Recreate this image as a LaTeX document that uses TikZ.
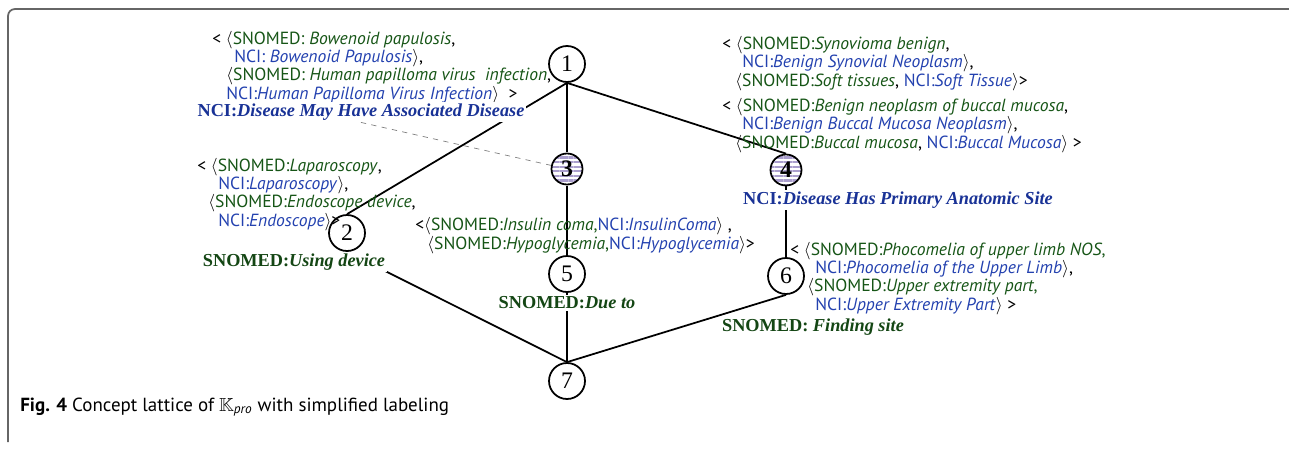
\documentclass[tikz,border=0pt]{standalone}
\usepackage{amsmath}
\usepackage{amssymb}
\usepackage{fontspec}
\setmainfont{Liberation Serif}
\setsansfont{PT Sans}
\usepackage{tikz}
\usetikzlibrary{patterns.meta}
\usepackage{xcolor}

\definecolor{sngreen}{RGB}{22,85,22}
\definecolor{nciblue}{RGB}{35,65,175}
\definecolor{relblue}{RGB}{25,50,150}
\definecolor{relgreen}{RGB}{20,70,20}
\definecolor{stripe}{RGB}{170,158,205}

\newcommand{\snm}[1]{\textcolor{sngreen}{#1}}
\newcommand{\nci}[1]{\textcolor{nciblue}{#1}}
\newcommand{\lb}{$\langle$}
\newcommand{\rb}{$\rangle$}

\begin{document}
\begin{tikzpicture}[x=0.02cm, y=-0.02cm,
  concept/.style={circle, draw, line width=1pt, minimum size=0.72cm, inner sep=0pt, font=\fontsize{13.5}{13.5}\selectfont},
  conceptobj/.style={circle, draw, line width=1pt, minimum size=0.62cm, inner sep=0pt, font=\bfseries\fontsize{13.5}{13.5}\selectfont, pattern={Lines[angle=0,distance=2.6pt,line width=1.3pt]}, pattern color=stripe},
  pairs/.style={anchor=base west, align=left, inner sep=0pt, font=\sffamily\fontsize{10}{10.3}\selectfont},
  relname/.style={fill=white, inner sep=1pt, font=\bfseries\fontsize{10.4}{12}\selectfont},
  link/.style={line width=1pt}]

\useasboundingbox (0,0) rectangle (1289,450);

% frame
\draw[gray!80!black, line width=1pt, rounded corners=4pt] (8,442) -- (8,9) -- (1289,9);

% concepts
\node[concept] (n1) at (567,64) {1};
\node[conceptobj] (n3) at (567,169) {3};
\node[conceptobj] (n4) at (786,170) {4};
\node[concept] (n2) at (347,233) {2};
\node[concept] (n5) at (567,274) {5};
\node[concept] (n6) at (786,276) {6};
\node[concept] (n7) at (567,381) {7};

% lattice lines
\draw[link] (n1.south) -- (n3.north);
\draw[link] (n1.south) -- (n2.north);
\draw[link] (n1.south) -- (n4.north);
\draw[link] (n3.south) -- (n5.north);
\draw[link] (n4.south) -- (n6.north);
\draw[link] (n2.south) -- (n7.north);
\draw[link] (n5.south) -- (n7.north);
\draw[link] (n6.south) -- (n7.north);

% object pairs (anchored at the last line)
\node[pairs] (o1) at (212,99) {< \lb\snm{SNOMED: \textit{Bowenoid papulosis}},\\
  \hspace*{0.44cm}\nci{NCI: \textit{Bowenoid Papulosis}}\rb,\\
  \hspace*{0.28cm}\lb\snm{SNOMED: \textit{Human papilloma virus\ \ infection}},\\
  \hspace*{0.28cm}\nci{NCI:\textit{Human Papilloma Virus Infection}}\rb\ \ >};

\node[pairs] (o4a) at (722,86) {< \lb\snm{SNOMED:\textit{Synovioma benign}},\\
  \hspace*{0.4cm}\nci{NCI:\textit{Benign Synovial Neoplasm}}\rb,\\
  \hspace*{0.26cm}\lb\snm{SNOMED:\textit{Soft tissues}}, \nci{NCI:\textit{Soft Tissue}}\rb>};

\node[pairs] (o4b) at (722,148) {< \lb\snm{SNOMED:\textit{Benign neoplasm of buccal mucosa}},\\
  \hspace*{0.4cm}\nci{NCI:\textit{Benign Buccal Mucosa Neoplasm}}\rb,\\
  \hspace*{0.26cm}\lb\snm{SNOMED:\textit{Buccal mucosa}}, \nci{NCI:\textit{Buccal Mucosa}}\rb\ >};

\node[pairs] (o2) at (197,226) {< \lb\snm{SNOMED:\textit{Laparoscopy}},\\
  \hspace*{0.42cm}\nci{NCI:\textit{Laparoscopy}}\rb,\\
  \hspace*{0.22cm}\lb\snm{SNOMED:\textit{Endoscope device}},\\
  \hspace*{0.42cm}\nci{NCI:\textit{Endoscope}}\rb>};

\node[pairs] (o5) at (415,249) {<\lb\snm{SNOMED:\textit{Insulin coma},}\nci{NCI:\textit{InsulinComa}}\rb\ ,\\
  \hspace*{0.24cm}\lb\snm{SNOMED:\textit{Hypoglycemia},}\nci{NCI:\textit{Hypoglycemia}}\rb>};

\node[pairs] (o6) at (790,310) {< \lb\snm{SNOMED:\textit{Phocomelia of upper limb NOS},}\\
  \hspace*{0.5cm}\nci{NCI:\textit{Phocomelia of the Upper Limb}}\rb,\\
  \hspace*{0.34cm}\lb\snm{SNOMED:\textit{Upper extremity part},}\\
  \hspace*{0.5cm}\nci{NCI:\textit{Upper Extremity Part}}\rb\ >};

% relation names
\node[relname, text=relblue] (r3) at (361,112) {NCI:\textit{Disease May Have Associated Disease}};
\node[relname, text=relblue] (r4) at (898,200) {NCI:\textit{Disease Has Primary Anatomic Site}};
\node[relname, text=relgreen] (r2) at (294,262) {SNOMED:\textit{Using device}};
\node[relname, text=relgreen] (r5) at (567,303) {SNOMED:\textit{Due to}};
\node[relname, text=relgreen] (r6) at (813,327) {SNOMED: \textit{Finding site}};

\draw[gray, dashed, thin] (r3.south) -- (n3);

% caption
\node[anchor=base west, inner sep=0pt, font=\sffamily\fontsize{10.8}{12}\selectfont] (cap) at (20,411)
  {\textbf{Fig. 4} Concept lattice of $\mathbb{K}_{\textit{pro}}$ with simplified labeling};

\end{tikzpicture}
\end{document}
